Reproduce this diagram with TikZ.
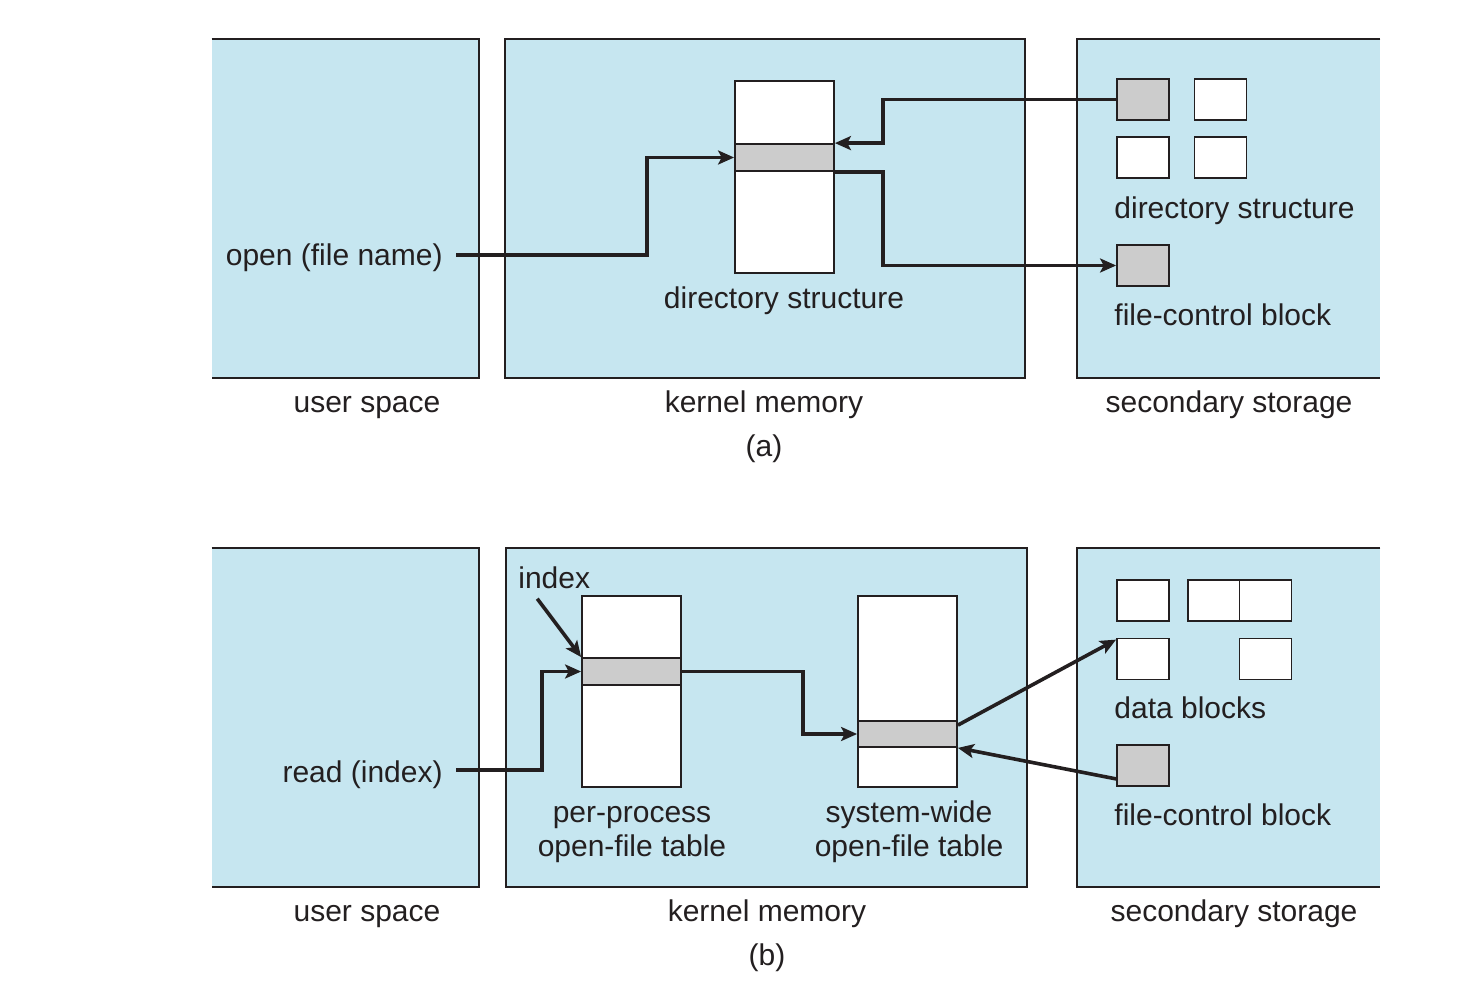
\documentclass[tikz,border=0pt]{standalone}
\usepackage{fontspec}
\setmainfont{Liberation Sans}
\usetikzlibrary{arrows.meta}
\definecolor{panelblue}{RGB}{198,230,240}
\definecolor{bandgray}{RGB}{204,204,204}
\definecolor{ink}{RGB}{35,31,32}
\begin{document}
\begin{tikzpicture}[x=0.5pt,y=-0.5pt,
 lbl/.style={font=\fontsize{15}{18}\selectfont, text=ink, inner sep=0pt},
 panel/.style={rectangle, fill=panelblue, draw=none, inner sep=0pt, minimum height=169.5pt},
 edge/.style={draw=ink, line width=1pt},
 tbl/.style={rectangle, draw=ink, fill=white, line width=0.9pt, inner sep=0pt, minimum width=49.5pt},
 band/.style={rectangle, draw=ink, fill=bandgray, line width=0.9pt, inner sep=0pt, minimum width=49.5pt, minimum height=13.5pt},
 blk/.style={rectangle, draw=ink, fill=white, line width=0.9pt, inner sep=0pt, minimum width=26pt, minimum height=20.5pt},
 gblk/.style={blk, fill=bandgray},
 arr/.style={draw=ink, line width=1.8pt, -{Stealth[length=8pt,width=7pt,inset=1.8pt]}}
]
\useasboundingbox (0,0) rectangle (1471,1000);

% ---------------- panel (a) ----------------
\node[panel, minimum width=133.5pt] (usA) at (345.5,208.5) {};
\node[panel, minimum width=260pt, draw=ink, line width=1pt] (kmA) at (765,208.5) {};
\node[panel, minimum width=151.5pt] (ssA) at (1228.5,208.5) {};
\draw[edge] (usA.north west) -- (usA.north east) -- (usA.south east) -- (usA.south west);
\draw[edge] (ssA.north east) -- (ssA.north west) -- (ssA.south west) -- (ssA.south east);

\node[tbl, minimum height=96pt] (dirT) at (784.5,177) {};
\node[band] (dirBand) at (784.5,157.5) {};
\node[lbl, anchor=base] (dirLbl) at (784,308) {directory structure};

\node[gblk] (sA1) at (1143,99.5) {};
\node[blk] (sA2) at (1220.5,99.5) {};
\node[blk] (sA3) at (1143,157.5) {};
\node[blk] (sA4) at (1220.5,157.5) {};
\node[lbl, anchor=base west] (dsLbl) at (1114,219) {directory structure};
\node[gblk] (fcbA) at (1143,265.5) {};
\node[lbl, anchor=base west] (fcbLblA) at (1114,325) {file-control block};

\node[lbl, anchor=base east] (openTxt) at (443,265) {open (file name)};

\draw[arr] ([shift={(6.5pt,5pt)}]openTxt.base east) -| (647,200) |- (dirBand.west);
\draw[arr] (sA1.west) -| (883,120) |- (dirBand.north east);
\draw[arr] (dirBand.south east) -| (883,220) |- (fcbA.west);

\node[lbl, anchor=base] (usLblA) at (367,412) {user space};
\node[lbl, anchor=base] (kmLblA) at (764,412) {kernel memory};
\node[lbl, anchor=base] (ssLblA) at (1229,412) {secondary storage};
\node[lbl, anchor=base] (capA) at (764,456) {(a)};

% ---------------- panel (b) ----------------
\node[panel, minimum width=133.5pt] (usB) at (345.5,717.5) {};
\node[panel, minimum width=260.5pt, draw=ink, line width=1pt] (kmB) at (766.5,717.5) {};
\node[panel, minimum width=151.5pt] (ssB) at (1228.5,717.5) {};
\draw[edge] (usB.north west) -- (usB.north east) -- (usB.south east) -- (usB.south west);
\draw[edge] (ssB.north east) -- (ssB.north west) -- (ssB.south west) -- (ssB.south east);

\node[tbl, minimum height=95.5pt] (ppT) at (631.5,691.5) {};
\node[band] (ppBand) at (631.5,671.5) {};
\node[tbl, minimum height=95.5pt] (swT) at (907.5,691.5) {};
\node[band, minimum height=13pt] (swBand) at (907.5,734) {};

\node[lbl, anchor=base] (ppLbl1) at (632,822) {per-process};
\node[lbl, anchor=base] (ppLbl2) at (632,856) {open-file table};
\node[lbl, anchor=base] (swLbl1) at (909,822) {system-wide};
\node[lbl, anchor=base] (swLbl2) at (909,856) {open-file table};

\node[lbl, anchor=base west] (idx) at (518,588) {index};
\node[lbl, anchor=base east] (readTxt) at (443,782) {read (index)};

\node[blk] (d1) at (1143,600.5) {};
\node[blk] (d2) at (1214,600.5) {};
\node[blk] (d3) at (1265.5,600.5) {};
\node[blk] (d4) at (1143,659) {};
\node[blk] (d5) at (1265.5,659) {};
\node[lbl, anchor=base west] (dbLbl) at (1114,718) {data blocks};
\node[gblk] (fcbB) at (1143,765.5) {};
\node[lbl, anchor=base west] (fcbLblB) at (1114,825) {file-control block};

\draw[arr] ([shift={(-8.5pt,-5pt)}]idx.south) -- (ppBand.north west);
\draw[arr] ([shift={(6.5pt,6pt)}]readTxt.base east) -| (542,700) |- (ppBand.west);
\draw[arr] (ppBand.east) -| (803,700) |- (swBand.west);
\draw[arr] ([yshift=-2.5pt]swBand.north east) -- ([yshift=-1pt]d4.north west);
\draw[arr] ([yshift=4pt]fcbB.south west) -- (swBand.south east);

\node[lbl, anchor=base] (usLblB) at (367,921) {user space};
\node[lbl, anchor=base] (kmLblB) at (767,921) {kernel memory};
\node[lbl, anchor=base] (ssLblB) at (1234,921) {secondary storage};
\node[lbl, anchor=base] (capB) at (767,965) {(b)};
\end{tikzpicture}
\end{document}
